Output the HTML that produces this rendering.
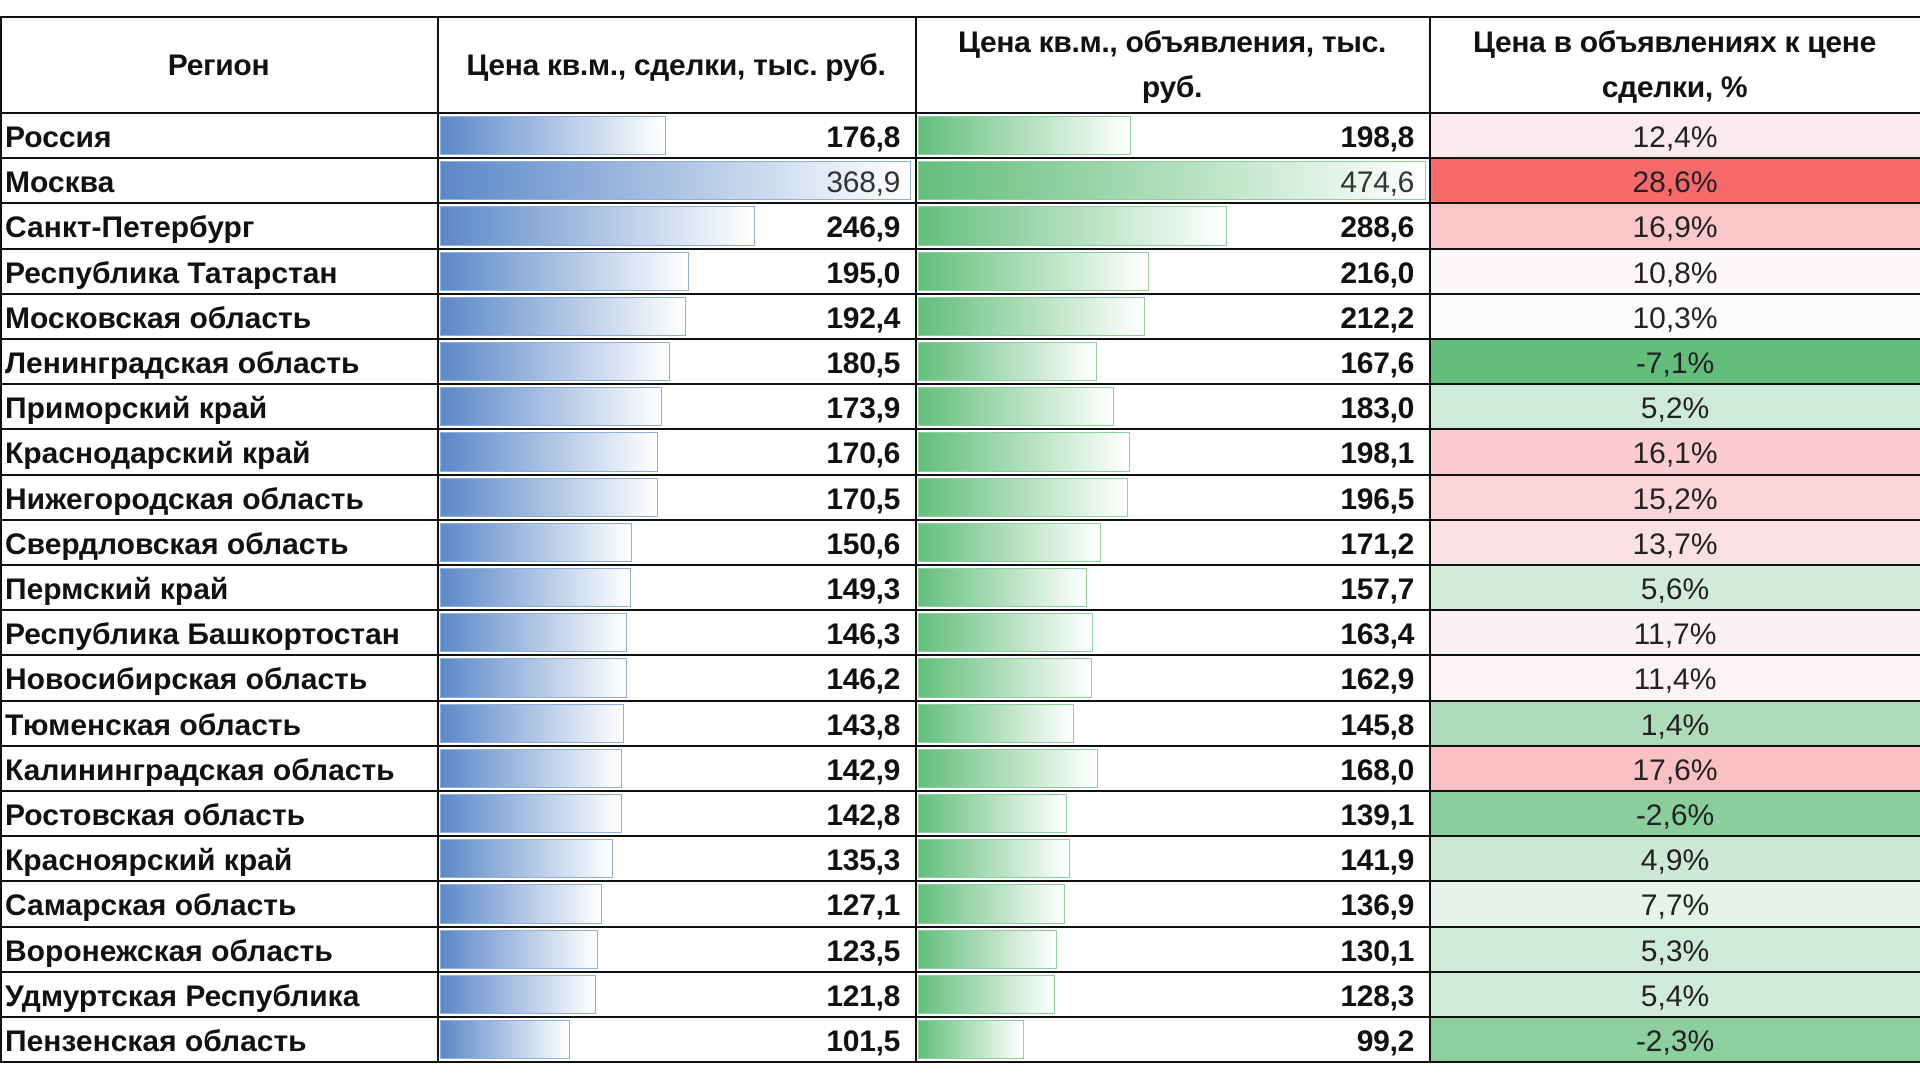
<!DOCTYPE html>
<html><head><meta charset="utf-8"><style>
body{margin:0;width:1920px;height:1080px;background:#fff;overflow:hidden;font-family:"Liberation Sans",sans-serif;}
#t{position:absolute;left:0;top:0;width:1920px;height:1080px;}
.c{position:absolute;box-sizing:border-box;}
.hl{position:absolute;background:#111;}
.h{font-weight:bold;font-size:30px;color:#111;text-align:center;display:flex;align-items:center;justify-content:center;line-height:45px;letter-spacing:-0.3px}
.rn{font-weight:bold;font-size:30px;color:#111;letter-spacing:0px;white-space:nowrap}
.num{font-weight:bold;font-size:30px;color:#111;text-align:right;letter-spacing:-0.3px}
.pct{font-size:30px;color:#222;text-align:center}
</style></head><body>
<div id="t"></div>
<script>
const regions=["Россия","Москва","Санкт-Петербург","Республика Татарстан","Московская область","Ленинградская область","Приморский край","Краснодарский край","Нижегородская область","Свердловская область","Пермский край","Республика Башкортостан","Новосибирская область","Тюменская область","Калининградская область","Ростовская область","Красноярский край","Самарская область","Воронежская область","Удмуртская Республика","Пензенская область"];
const deals=[176.8,368.9,246.9,195.0,192.4,180.5,173.9,170.6,170.5,150.6,149.3,146.3,146.2,143.8,142.9,142.8,135.3,127.1,123.5,121.8,101.5];
const ads=[198.8,474.6,288.6,216.0,212.2,167.6,183.0,198.1,196.5,171.2,157.7,163.4,162.9,145.8,168.0,139.1,141.9,136.9,130.1,128.3,99.2];
const pcts=[12.4,28.6,16.9,10.8,10.3,-7.1,5.2,16.1,15.2,13.7,5.6,11.7,11.4,1.4,17.6,-2.6,4.9,7.7,5.3,5.4,-2.3];
const headers=["Регион","Цена кв.м., сделки, тыс. руб.","Цена кв.м., объявления, тыс. руб.","Цена в объявлениях к цене сделки, %"];
const t=document.getElementById('t');
const cols=[0,437,915,1429,1920];
const top0=17,hdrB=113,rowH=45.2;
function fmt(v){return v.toFixed(1).replace('.',',');}
function div(cls,x,y,w,h,html){const d=document.createElement('div');d.className=cls;d.style.left=x+'px';d.style.top=y+'px';d.style.width=w+'px';d.style.height=h+'px';if(html!==undefined)d.innerHTML=html;t.appendChild(d);return d;}
headers.forEach((h,i)=>{const pad=i==2?40:i==3?20:2;const d=div('c h',cols[i]+pad,top0,cols[i+1]-cols[i]-2*pad,hdrB-top0,h);

});
const dMax=Math.max(...deals),aMax=Math.max(...ads);
const sorted=[...pcts].sort((a,b)=>a-b);const pMin=sorted[0],pMax=sorted[sorted.length-1],pMid=sorted[Math.floor(sorted.length/2)];
function lerp(a,b,t){return a.map((v,i)=>Math.round(v+(b[i]-v)*t));}
function pColor(v){const g=[99,190,123],w=[252,252,255],r=[248,105,107];let c;if(v>=pMid)c=lerp(w,r,(v-pMid)/(pMax-pMid));else c=lerp(w,g,(pMid-v)/(pMid-pMin));return 'rgb('+c.join(',')+')';}
regions.forEach((r,i)=>{
 const y=hdrB+i*rowH;
 let d=div('c rn',5,y,430,rowH,'<div style="line-height:'+rowH+'px;padding-top:2px">'+r+'</div>');
 
 
 let b=div('c',440,y+3,deals[i]/dMax*471,rowH-6);
 b.style.background='linear-gradient(to right,#5b88c8,#fff)';b.style.border='1.5px solid #8fb0dc';
 
 
 d=div('c num',440,y,460,rowH,'<div style="line-height:'+rowH+'px;padding-top:2px">'+fmt(deals[i])+'</div>');
 if(i==1){d.style.fontWeight='normal';d.style.color='#333';}
 
 
 b=div('c',918,y+3,ads[i]/aMax*508,rowH-6);
 b.style.background='linear-gradient(to right,#63be7b,#fff)';b.style.border='1.5px solid #8fd0a0';
 
 
 d=div('c num',918,y,496,rowH,'<div style="line-height:'+rowH+'px;padding-top:2px">'+fmt(ads[i])+'</div>');
 if(i==1){d.style.fontWeight='normal';d.style.color='#333';}
 
 
 d=div('c pct',1430,y,490,rowH,'<div style="line-height:'+rowH+'px;padding-top:2px">'+fmt(pcts[i])+'%</div>');
 d.style.background=pColor(pcts[i]);
 
 
});
const bottom=hdrB+regions.length*rowH;
function hl(x,y,w,h){const e=document.createElement('div');e.className='hl';e.style.left=x+'px';e.style.top=y+'px';e.style.width=w+'px';e.style.height=h+'px';t.appendChild(e);}
hl(0,top0-1,1920,2);
for(let i=0;i<=regions.length;i++)hl(0,hdrB+i*rowH-1,1920,2);
cols.slice(0,4).forEach(x=>hl(x,top0,2,bottom-top0+1));
</script>
</body></html>
